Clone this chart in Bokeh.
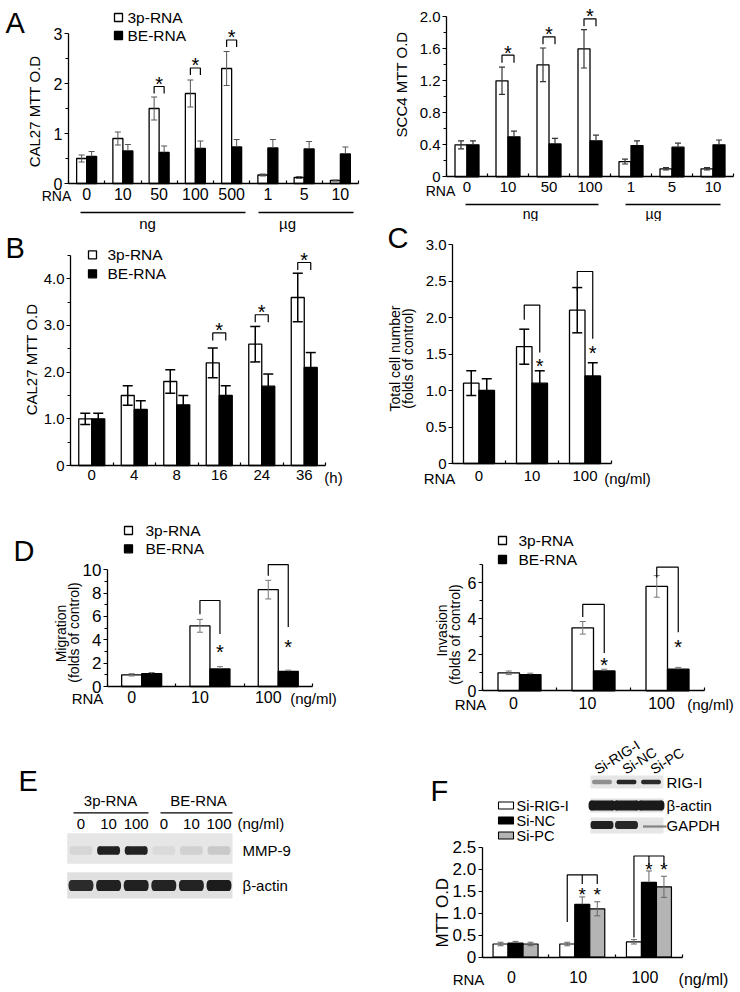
import numpy as np
from bokeh.plotting import figure
from bokeh.models import Range1d, FixedTicker, PrintfTickFormatter
from bokeh.layouts import row, column
from bokeh.core.properties import value
from bokeh.embed import file_html
from bokeh.resources import INLINE

FONT = "Liberation Sans"

# ---------------- data ----------------
# A (left): CAL27
a1_groups = ["0", "10", "50", "100", "500", "1", "5", "10"]
a1_3p = [0.50, 0.90, 1.50, 1.80, 2.30, 0.17, 0.12, 0.06]
a1_3p_err = [0.07, 0.13, 0.23, 0.27, 0.34, 0.02, 0.02, 0.01]
a1_be = [0.54, 0.65, 0.62, 0.70, 0.73, 0.71, 0.69, 0.59]
a1_be_err = [0.10, 0.13, 0.13, 0.15, 0.15, 0.17, 0.15, 0.14]
a1_sig = [2, 3, 4]
a1_sig_level = [1.94, 2.31, 2.87]

# A (right): SCC4
a2_groups = ["0", "10", "50", "100", "1", "5", "10"]
a2_3p = [0.40, 1.20, 1.40, 1.60, 0.19, 0.10, 0.10]
a2_3p_err = [0.05, 0.17, 0.21, 0.24, 0.03, 0.015, 0.015]
a2_be = [0.40, 0.50, 0.41, 0.45, 0.39, 0.37, 0.40]
a2_be_err = [0.05, 0.07, 0.07, 0.07, 0.06, 0.05, 0.06]
a2_sig = [1, 2, 3]
a2_sig_level = [1.52, 1.75, 1.975]

# B: time course
b_groups = ["0", "4", "8", "16", "24", "36"]
b_3p = [1.0, 1.5, 1.8, 2.2, 2.6, 3.6]
b_3p_err = [0.12, 0.21, 0.25, 0.32, 0.38, 0.52]
b_be = [1.0, 1.2, 1.3, 1.5, 1.7, 2.1]
b_be_err = [0.12, 0.19, 0.20, 0.21, 0.26, 0.32]
b_sig = [3, 4, 5]
b_sig_level = [2.84, 3.23, 4.35]

# C: total cell number
c_groups = ["0", "10", "100"]
c_3p = [1.1, 1.6, 2.1]
c_3p_err = [0.17, 0.24, 0.31]
c_be = [1.0, 1.1, 1.2]
c_be_err = [0.16, 0.17, 0.18]
c_sig = [1, 2]
c_sig_top = [2.17, 2.63]
c_sig_left = [1.97, 2.37]
c_sig_right = [1.52, 1.71]
c_star = [1.39, 1.57]

# D: migration / invasion
d_groups = ["0", "10", "100"]
d1_3p = [1.0, 5.2, 8.3]
d1_3p_err = [0.1, 0.55, 0.8]
d1_be = [1.1, 1.5, 1.3]
d1_be_err = [0.1, 0.2, 0.1]
d1_sig = [1, 2]
d1_sig_top = [7.37, 10.45]
d1_sig_left = [6.2, 9.5]
d1_sig_right = [4.5, 5.1]
d1_star = [3.37, 3.8]

d2_3p = [1.0, 3.5, 5.8]
d2_3p_err = [0.1, 0.35, 0.6]
d2_be = [0.9, 1.1, 1.2]
d2_be_err = [0.08, 0.1, 0.1]
d2_sig = [1, 2]
d2_sig_top = [4.8, 6.87]
d2_sig_left = [4.1, 6.3]
d2_sig_right = [2.1, 3.25]
d2_star = [1.68, 2.70]

# E: western blot (band intensities 0..1)
e_lanes = ["0", "10", "100", "0", "10", "100"]
e_mmp9 = [0.06, 0.93, 0.92, 0.04, 0.08, 0.12]
e_actin = [0.88, 0.93, 0.93, 0.92, 0.92, 0.95]

# F: siRNA
f_groups = ["0", "10", "100"]
f_series = ["Si-RIG-I", "Si-NC", "Si-PC"]
f_sirig = [0.30, 0.30, 0.35]
f_sirig_err = [0.04, 0.04, 0.05]
f_sinc = [0.32, 1.20, 1.70]
f_sinc_err = [0.04, 0.17, 0.26]
f_sipc = [0.30, 1.10, 1.60]
f_sipc_err = [0.04, 0.16, 0.24]
f_sig = [1, 2]
f_sig_top = [1.87, 2.30]
f_sig_left = [0.80, 0.45]
f_star = [1.52, 2.08]
f_rig = [0.40, 0.90, 0.88]
f_actin = [0.96, 0.96, 0.96]
f_gapdh = [0.93, 0.90, 0.45]

GRAY = "#b4b4b4"


# ---------------- helpers ----------------
class Panel:
    def __init__(self, box, x0, y0, sx, sy, xoff=-0.5):
        l, t, r, b = box
        self.x0, self.y0, self.sx, self.sy, self.xoff = x0, y0, sx, sy, xoff
        p = figure(width=r - l, height=b - t,
                   x_range=Range1d(self.X(l), self.X(r)),
                   y_range=Range1d(self.Y(b), self.Y(t)),
                   output_backend="svg", toolbar_location=None,
                   min_border=0)
        p.outline_line_color = None
        p.xgrid.visible = False
        p.ygrid.visible = False
        p.background_fill_color = "white"
        p.border_fill_color = "white"
        self.p = p

    def X(self, px):
        return (px - self.x0) / self.sx + self.xoff

    def Y(self, py):
        return (self.y0 - py) / self.sy

    def dx(self, px):
        return px / self.sx

    def dy(self, px):
        return px / self.sy


def chart_axes(P, labels, ymax, ymajor, yminor, yfmt, ysize, xsize, xstand, label_shift_px=0.0):
    p = P.p
    n = len(labels)
    xa, ya = p.xaxis[0], p.yaxis[0]
    xa.fixed_location = 0
    ya.fixed_location = -0.5
    xa.bounds = (-0.5, n - 0.5)
    ya.bounds = (0, ymax)
    ticks = [round(i + P.dx(label_shift_px), 6) for i in range(n)]
    xa.ticker = FixedTicker(ticks=ticks, minor_ticks=[i - 0.5 for i in range(n + 1)])
    xa.major_label_overrides = {t: s for t, s in zip(ticks, labels)}
    xa.major_tick_in = 0
    xa.major_tick_out = 0
    xa.minor_tick_in = 3
    xa.minor_tick_out = 0
    xa.major_label_standoff = xstand
    xa.major_label_text_font_size = xsize
    ya.ticker = FixedTicker(ticks=ymajor, minor_ticks=yminor)
    if yfmt:
        ya.formatter = PrintfTickFormatter(format=yfmt)
        ya.major_label_overrides = {0: "0"}
    ya.major_tick_in = 0
    ya.major_tick_out = 4
    ya.minor_tick_in = 0
    ya.minor_tick_out = 3
    ya.major_label_standoff = 2
    ya.major_label_text_font_size = ysize
    for ax in (xa, ya):
        ax.axis_line_color = "black"
        ax.axis_line_width = 1.3
        ax.major_tick_line_color = "black"
        ax.minor_tick_line_color = "black"
        ax.major_tick_line_width = 1.2
        ax.minor_tick_line_width = 1.2
        ax.major_label_text_font = FONT
        ax.major_label_text_color = "black"


def txt(P, px, py, s, size=15, align="center", baseline="middle", angle=0.0):
    P.p.text(x=[P.X(px)], y=[P.Y(py)], text=[s], text_font=value(FONT),
             text_font_size=value(f"{size}px"), text_align=align,
             text_baseline=baseline, angle=angle, text_color="black")


def hline(P, x0, x1, y, w=1.3, color="black"):
    P.p.segment(x0=[P.X(x0)], y0=[P.Y(y)], x1=[P.X(x1)], y1=[P.Y(y)],
                line_color=color, line_width=w)


def errbars(P, xs, tops, errs, cap_px, color, w, both=True):
    xs = np.asarray(xs, float)
    tops = np.asarray(tops, float)
    errs = np.asarray(errs, float)
    c = P.dx(cap_px)
    lo = tops - errs if both else tops
    P.p.segment(x0=xs, y0=lo, x1=xs, y1=tops + errs, line_color=color, line_width=w)
    P.p.segment(x0=xs - c, y0=tops + errs, x1=xs + c, y1=tops + errs, line_color=color, line_width=w)
    if both:
        P.p.segment(x0=xs - c, y0=tops - errs, x1=xs + c, y1=tops - errs, line_color=color, line_width=w)


def pair_bars(P, v1, e1, v2, e2, bar_px, cap_px, err_color, err_w, lw=1.3):
    n = len(v1)
    xc = np.arange(n, dtype=float)
    w = P.dx(bar_px)
    x1 = xc - w / 2
    x2 = xc + w / 2
    P.p.vbar(x=x1, top=v1, bottom=0, width=w, fill_color="white", line_color="black", line_width=lw)
    P.p.vbar(x=x2, top=v2, bottom=0, width=w, fill_color="black", line_color="black", line_width=lw)
    errbars(P, x1, v1, e1, cap_px, err_color, err_w, both=True)
    errbars(P, x2, v2, e2, cap_px, err_color, err_w, both=False)
    return x1, x2


def stars(P, xs, ycs, size=20):
    ys = [y - P.dy(0.22 * size) for y in ycs]
    P.p.text(x=list(xs), y=ys, text=["*"] * len(ys), text_font=value(FONT),
             text_font_size=value(f"{size}px"), text_align="center",
             text_baseline="middle", text_color="black")


def cap_brackets(P, idx, levels, x1, x2, leg_px=7, star_px=7, size=20):
    leg = P.dy(leg_px)
    xs, ys = [], []
    for i, lv in zip(idx, levels):
        xs.append([x1[i], x1[i], x2[i], x2[i]])
        ys.append([lv - leg, lv, lv, lv - leg])
    P.p.multi_line(xs, ys, line_color="black", line_width=1.2)
    stars(P, [(x1[i] + x2[i]) / 2 for i in idx], [lv + P.dy(star_px) for lv in levels], size)


def open_brackets(P, idx, tops, lefts, rights, stary, x1, x2, size=20):
    xs, ys = [], []
    for i, t, lb, rb in zip(idx, tops, lefts, rights):
        xs.append([x1[i], x1[i], x2[i], x2[i]])
        ys.append([lb, t, t, rb])
    P.p.multi_line(xs, ys, line_color="black", line_width=1.2)
    stars(P, [x2[i] for i in idx], stary, size)


def legend2(P, mx, ys, tx, size=15.5):
    P.p.scatter(x=[P.X(mx)] * 2, y=[P.Y(y) for y in ys], marker="square", size=8,
                fill_color=["white", "black"], line_color="black", line_width=1.3)
    for y, s in zip(ys, ["3p-RNA", "BE-RNA"]):
        txt(P, tx, y, s, size, align="left")


def letter(P, s, px, py):
    txt(P, px, py, s, 29, align="left")


def band_colors(inten):
    cols = []
    for v in inten:
        g = int(round(226 - 208 * v))
        cols.append(f"#{g:02x}{g:02x}{g:02x}")
    return cols


def blot_row(P, xl, xr, yt, yb, lane_x, yc, inten, bw, bh, bg="#e6e6e6"):
    P.p.quad(left=[P.X(xl)], right=[P.X(xr)], top=[P.Y(yt)], bottom=[P.Y(yb)],
             fill_color=bg, line_color=None)
    cols = band_colors(inten)
    xs = [P.X(x) for x in lane_x]
    ys = [P.Y(yc)] * len(xs)
    P.p.rect(x=xs, y=ys, width=P.dx(bw * 0.78), height=P.dy(bh), fill_color=cols, line_color=None)
    P.p.ellipse(x=[x - P.dx(bw * 0.39) for x in xs], y=ys, width=P.dx(bw * 0.22), height=P.dy(bh),
                fill_color=cols, line_color=None)
    P.p.ellipse(x=[x + P.dx(bw * 0.39) for x in xs], y=ys, width=P.dx(bw * 0.22), height=P.dy(bh),
                fill_color=cols, line_color=None)


# ---------------- A left ----------------
A1 = Panel((0, 0, 370, 232), 68, 183, 36.25, 50)
chart_axes(A1, a1_groups, 3, [0, 1, 2, 3], [0.5, 1.5, 2.5], None, "16px", "16px", 4)
x1, x2 = pair_bars(A1, a1_3p, a1_3p_err, a1_be, a1_be_err, 10, 3, "#555555", 1)
cap_brackets(A1, a1_sig, a1_sig_level, x1, x2)
letter(A1, "A", 5, 22)
legend2(A1, 118, [17, 35], 127)
txt(A1, 34, 111, "CAL27 MTT O.D", 15, angle=np.pi / 2)
txt(A1, 56, 195, "RNA", 14)
hline(A1, 80, 245, 212)
hline(A1, 258, 353, 212)
txt(A1, 147, 223, "ng", 15)
txt(A1, 287, 223, "µg", 15)

# ---------------- A right ----------------
A2 = Panel((370, 0, 738, 221), 446, 176.3, 41, 80)
chart_axes(A2, a2_groups, 2.0, [0, 0.4, 0.8, 1.2, 1.6, 2.0], [0.2, 0.6, 1.0, 1.4, 1.8],
           "%.1f", "15px", "15px", 5)
x1, x2 = pair_bars(A2, a2_3p, a2_3p_err, a2_be, a2_be_err, 12, 3, "#333333", 1.2)
cap_brackets(A2, a2_sig, a2_sig_level, x1, x2, leg_px=7.5)
txt(A2, 401, 84, "SCC4 MTT O.D", 15, angle=np.pi / 2)
txt(A2, 440, 190, "RNA", 14)
hline(A2, 465, 598, 204)
hline(A2, 625, 720, 204)
txt(A2, 530, 213.5, "ng", 14)
txt(A2, 653, 213.5, "µg", 14)

# ---------------- B ----------------
B = Panel((0, 232, 370, 490), 70, 465, 42.5, 46.67)
chart_axes(B, b_groups, 4.5, [0, 1, 2, 3, 4], [0.5, 1.5, 2.5, 3.5, 4.5], "%.1f", "15px", "15px", 4)
x1, x2 = pair_bars(B, b_3p, b_3p_err, b_be, b_be_err, 13, 5, "black", 1.5)
cap_brackets(B, b_sig, b_sig_level, x1, x2, leg_px=7.5)
letter(B, "B", 5, 247)
legend2(B, 92, [254.3, 273.3], 107)
txt(B, 31, 359, "CAL27 MTT O.D", 15, angle=np.pi / 2)
txt(B, 333, 477, "(h)", 15)

# ---------------- C ----------------
C = Panel((370, 221, 738, 490), 452, 463, 53, 73)
chart_axes(C, c_groups, 3.0, [0, 0.5, 1.0, 1.5, 2.0, 2.5, 3.0], [], "%.1f", "15px", "15px", 7)
x1, x2 = pair_bars(C, c_3p, c_3p_err, c_be, c_be_err, 15.5, 5, "black", 1.5)
open_brackets(C, c_sig, c_sig_top, c_sig_left, c_sig_right, c_star, x1, x2)
letter(C, "C", 387, 237)
txt(C, 394, 358, "Total cell number", 14, angle=np.pi / 2)
txt(C, 407.5, 358, "(folds of control)", 14, angle=np.pi / 2)
txt(C, 439, 478, "RNA", 15)
txt(C, 627, 478, "(ng/ml)", 15)

# ---------------- D left ----------------
D1 = Panel((0, 490, 370, 712), 107, 686, 68.3, 11.67)
chart_axes(D1, d_groups, 10, [0, 2, 4, 6, 8, 10], [1, 3, 5, 7, 9], None, "17px", "16px", 4, -10)
x1, x2 = pair_bars(D1, d1_3p, d1_3p_err, d1_be, d1_be_err, 20, 3, "#777777", 1)
open_brackets(D1, d1_sig, d1_sig_top, d1_sig_left, d1_sig_right, d1_star, x1, x2)
letter(D1, "D", 13, 550)
legend2(D1, 128, [530, 548.3], 145)
txt(D1, 60, 633, "Migration", 14, angle=np.pi / 2)
txt(D1, 73.5, 632, "(folds of control)", 14, angle=np.pi / 2)
txt(D1, 87, 698, "RNA", 15)
txt(D1, 313, 698, "(ng/ml)", 15)

# ---------------- D right ----------------
D2 = Panel((370, 490, 738, 720), 482, 690.3, 74, 18)
chart_axes(D2, d_groups, 7, [0, 2, 4, 6], [1, 3, 5, 7], None, "16px", "16px", 6, -6)
x1, x2 = pair_bars(D2, d2_3p, d2_3p_err, d2_be, d2_be_err, 21.5, 3, "#777777", 1)
open_brackets(D2, d2_sig, d2_sig_top, d2_sig_left, d2_sig_right, d2_star, x1, x2)
legend2(D2, 502, [540, 559], 518)
txt(D2, 441.7, 630, "Invasion", 14, angle=np.pi / 2)
txt(D2, 454, 634, "(folds of control)", 14, angle=np.pi / 2)
txt(D2, 470, 704, "RNA", 15)
txt(D2, 710, 704, "(ng/ml)", 15)

# ---------------- E (blot) ----------------
E = Panel((0, 712, 370, 990), 0, 0, 1, 1, xoff=0)
E.p.axis.visible = False
e_pitch = 27.6
e_lane_x = 80.5 + e_pitch * np.arange(len(e_lanes))
letter(E, "E", 18, 780)
txt(E, 110, 800, "3p-RNA", 15)
txt(E, 198, 800, "BE-RNA", 15)
hline(E, 73, 148, 812.3)
hline(E, 160, 232, 812.3)
for lx, s in zip(e_lane_x, e_lanes):
    txt(E, lx, 823.3, s, 15)
txt(E, 237, 823.3, "(ng/ml)", 15, align="left")
blot_row(E, 66.7, 232, 832.7, 863.3, e_lane_x, 850, e_mmp9, 23, 8.5, "#e6e6e6")
blot_row(E, 66.7, 232, 871.7, 898, e_lane_x, 885, e_actin, 25, 11, "#e0e0e0")
txt(E, 242, 850, "MMP-9", 15, align="left")
txt(E, 242, 885, "β-actin", 15, align="left")

# ---------------- F ----------------
F = Panel((370, 720, 738, 990), 481.7, 956.7, 66.7, 44)
chart_axes(F, f_groups, 2.5, [0, 0.5, 1.0, 1.5, 2.0, 2.5], [], "%.1f", "17px", "16px", 14, -4)
n = len(f_groups)
xc = np.arange(n, dtype=float)
w = F.dx(15)
fx = [xc - w, xc, xc + w]
for xs_, vals, fc in zip(fx, [f_sirig, f_sinc, f_sipc], ["white", "black", GRAY]):
    F.p.vbar(x=xs_, top=vals, bottom=0, width=w, fill_color=fc, line_color="black", line_width=1.2)
for xs_, vals, errs, both in zip(fx, [f_sirig, f_sinc, f_sipc], [f_sirig_err, f_sinc_err, f_sipc_err],
                                 [True, False, True]):
    errbars(F, xs_, vals, errs, 3, "#666666", 1, both=both)
leg = F.dy(9)
bx, by = [], []
for i, t, lb in zip(f_sig, f_sig_top, f_sig_left):
    bx.append([fx[0][i], fx[0][i], fx[2][i], fx[2][i]])
    by.append([lb, t, t, t - leg])
    bx.append([fx[1][i], fx[1][i]])
    by.append([t, t - leg])
F.p.multi_line(bx, by, line_color="black", line_width=1.2)
stars(F, [fx[1][i] for i in f_sig] + [fx[2][i] for i in f_sig], f_star + f_star, 19)
letter(F, "F", 430, 790)
for yc, fc, s in zip([805, 820, 835], ["white", "black", GRAY], f_series):
    F.p.quad(left=[F.X(498)], right=[F.X(513)], top=[F.Y(yc - 3.5)], bottom=[F.Y(yc + 3.5)],
             fill_color=fc, line_color="black", line_width=1.1)
    txt(F, 516, yc, s, 14.5, align="left")
f_pitch = 24.5
f_lane_x = 601.5 + f_pitch * np.arange(len(f_series))
blot_row(F, 590, 663, 775, 788, f_lane_x, 781.5, f_rig, 20, 4.5, "#e6e6e6")
blot_row(F, 590, 663, 798, 812, f_lane_x, 805, f_actin, 27, 10, "#e2e2e2")
blot_row(F, 590, 663, 817, 833, f_lane_x, 824.5, f_gapdh[:2] + [0.0], 23, 8, "#e6e6e6")
hline(F, f_lane_x[2] - 8, 666, 826, 2.2, band_colors([f_gapdh[2]])[0])
txt(F, 666, 781.5, "RIG-I", 15, align="left")
txt(F, 666, 805, "β-actin", 15, align="left")
txt(F, 666, 825, "GAPDH", 15, align="left")
label_pitch = 28
for k, s in enumerate(f_series):
    txt(F, 595 + label_pitch * k, 770, s, 14, align="left", baseline="alphabetic", angle=0.56)
txt(F, 441.5, 912, "MTT O.D", 17, angle=np.pi / 2)
txt(F, 468, 979, "RNA", 15)
txt(F, 703, 979, "(ng/ml)", 16)

layout = row(column(A1.p, B.p, D1.p, E.p), column(A2.p, C.p, D2.p, F.p))
open("out.html", "w").write(file_html(layout, INLINE, title="3p-RNA figure"))
